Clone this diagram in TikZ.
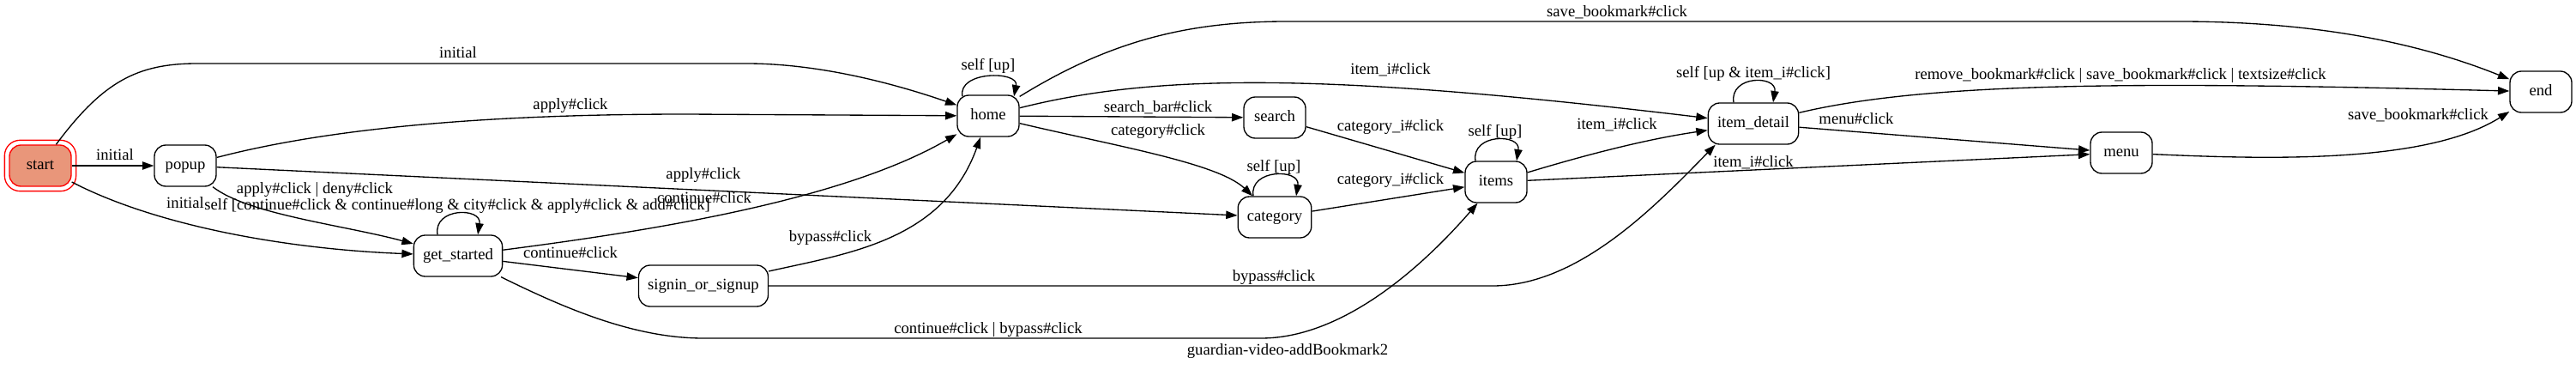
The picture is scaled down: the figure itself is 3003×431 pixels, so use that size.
\documentclass[tikz,border=0pt]{standalone}
\usepackage{fontspec}
\setmainfont{Liberation Serif}
\usetikzlibrary{arrows.meta}
\definecolor{salmonfill}{RGB}{233,150,122}
\begin{document}
\begin{tikzpicture}[x=0.75pt,y=-0.75pt,
  state/.style={draw, line width=1pt, rounded corners=10pt, minimum width=54pt, minimum height=36pt,
    inner xsep=8pt, inner ysep=0pt, text height=9.5pt, text depth=3pt, font=\fontsize{14}{16}\selectfont},
  edge/.style={line width=1pt, -{Triangle[length=10pt,width=7pt]}},
  lbl/.style={inner sep=0pt, text height=9.5pt, text depth=3pt, font=\fontsize{14}{16}\selectfont}
]
\useasboundingbox (0,0) rectangle (3003,431);

% states
\node[state, fill=salmonfill, draw=red] (start) at (47,193) {start};
\draw[red, line width=1pt, rounded corners=13.5pt] ([shift={(-5,-5)}]start.north west) rectangle ([shift={(5,5)}]start.south east);
\node[state] (popup) at (216,193) {popup};
\node[state] (get_started) at (534,298) {get\_started};
\node[state] (signin) at (820,333) {signin\_or\_signup};
\node[state] (home) at (1152,135) {home};
\node[state] (search) at (1486,137) {search};
\node[state] (category) at (1486,253) {category};
\node[state] (items) at (1744,212) {items};
\node[state] (item_detail) at (2044,144) {item\_detail};
\node[state] (menu) at (2473,178) {menu};
\node[state] (end) at (2962,107) {end};

% edges
\draw[edge] (start) .. controls (120,95) and (160,74) .. (230,74) -- (870,74) .. controls (960,74) and (1050,100) .. (home)
  node[lbl, at={(534,63)}] (l1) {initial};
\draw[edge] (start) -- (popup) node[lbl, at={(134,182)}] (l2) {initial};
\draw[edge] (start) .. controls (180,262) and (330,290) .. (get_started) node[lbl, at={(216,238)}] (l3) {initial};

\draw[edge] (popup) .. controls (400,145) and (600,133) .. (800,133) -- (home) node[lbl, at={(665,123)}] (l4) {apply\#click};
\draw[edge] (popup) -- (category) node[lbl, at={(820,204)}] (l5) {apply\#click};
\draw[edge] (popup) .. controls (290,250) and (400,262) .. (get_started) node[lbl, at={(367,221)}] (l6) {apply\#click | deny\#click};

\draw[edge] ([shift={(-24,0)}]get_started.north) .. controls +(-5,-32) and +(5,-32) .. ([shift={(23,0)}]get_started.north)
  node[lbl, at={(533,240)}] (l7) {self [continue\#click \& continue\#long \& city\#click \& apply\#click \& add\#click]};
\draw[edge] (get_started) .. controls (750,270) and (980,235) .. (home) node[lbl, at={(821,232)}] (l8) {continue\#click};
\draw[edge] (get_started) -- (signin) node[lbl, at={(665,296)}] (l9) {continue\#click};
\draw[edge] (get_started) .. controls (660,360) and (740,394) .. (820,394) -- (1470,394) .. controls (1560,394) and (1650,320) .. (items)
  node[lbl, at={(1152,384)}] (l10) {continue\#click | bypass\#click};

\draw[edge] (signin) .. controls (990,295) and (1100,280) .. (home) node[lbl, at={(968,277)}] (l11) {bypass\#click};
\draw[edge] (signin) -- (1740,333) .. controls (1840,333) and (1930,240) .. ([shift={(9,0)}]item_detail.south west)
  node[lbl, at={(1485,323)}] (l12) {bypass\#click};

\draw[edge] ([shift={(-30,2)}]home.north) .. controls +(-6,-30) and +(6,-30) .. ([shift={(30,2)}]home.north)
  node[lbl, at={(1152,77)}] (l13) {self [up]};
\draw[edge] (home) -- (search) node[lbl, at={(1350,126)}] (l14) {search\_bar\#click};
\draw[edge] (home) .. controls (1300,170) and (1420,190) .. (category) node[lbl, at={(1350,153)}] (l15) {category\#click};
\draw[edge] (home) .. controls (1350,85) and (1550,85) .. (item_detail) node[lbl, at={(1621,82)}] (l16) {item\_i\#click};
\draw[edge] (home) .. controls (1290,50) and (1380,25) .. (1500,25) -- (2540,25) .. controls (2700,25) and (2820,50) .. (end)
  node[lbl, at={(1885,15)}] (l17) {save\_bookmark\#click};

\draw[edge] (search) -- (items) node[lbl, at={(1621,148)}] (l18) {category\_i\#click};
\draw[edge] (category) -- (items) node[lbl, at={(1621,210)}] (l19) {category\_i\#click};
\draw[edge] ([shift={(-25,0)}]category.north) .. controls +(-5,-32) and +(5,-32) .. ([shift={(25,0)}]category.north)
  node[lbl, at={(1485,195)}] (l20) {self [up]};

\draw[edge] ([shift={(-24,0)}]items.north) .. controls +(-5,-32) and +(5,-32) .. ([shift={(24,0)}]items.north)
  node[lbl, at={(1743,154)}] (l21) {self [up]};
\draw[edge] (items) .. controls (1850,180) and (1920,162) .. (item_detail) node[lbl, at={(1885,146)}] (l22) {item\_i\#click};
\draw[edge] (items) -- (menu) node[lbl, at={(2044,190)}] (l23) {item\_i\#click};

\draw[edge] ([shift={(-23,0)}]item_detail.north) .. controls +(-5,-32) and +(5,-32) .. ([shift={(23,0)}]item_detail.north)
  node[lbl, at={(2044,86)}] (l24) {self [up \& item\_i\#click]};
\draw[edge] (item_detail) .. controls (2250,95) and (2500,95) .. (end)
  node[lbl, at={(2472,88)}] (l25) {remove\_bookmark\#click | save\_bookmark\#click | textsize\#click};
\draw[edge] (item_detail) -- (menu) node[lbl, at={(2164,140)}] (l26) {menu\#click};

\draw[edge] (menu) .. controls (2650,186) and (2830,190) .. (end) node[lbl, at={(2819,135)}] (l27) {save\_bookmark\#click};

\node[lbl] (title) at (1501,409) {guardian-video-addBookmark2};
\end{tikzpicture}
\end{document}
